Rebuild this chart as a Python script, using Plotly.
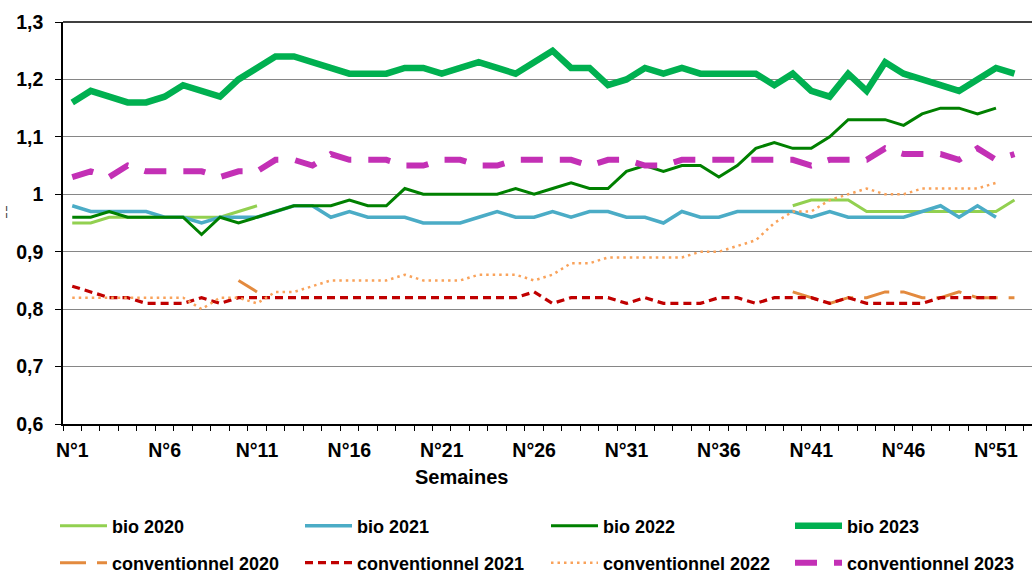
import plotly.graph_objects as go

weeks = list(range(1, 53))
tick_weeks = [1, 6, 11, 16, 21, 26, 31, 36, 41, 46, 51]
tick_labels = ["N°%d" % w for w in tick_weeks]
y_ticks = [0.6, 0.7, 0.8, 0.9, 1.0, 1.1, 1.2, 1.3]
y_tick_labels = ["0,6", "0,7", "0,8", "0,9", "1", "1,1", "1,2", "1,3"]

N = None
bio_2020 = [0.95, 0.95, 0.96, 0.96, 0.96, 0.96, 0.96, 0.96, 0.96, 0.97, 0.98] + [N] * 28 + \
           [0.98, 0.99, 0.99, 0.99, 0.97, 0.97, 0.97, 0.97, 0.97, 0.97, 0.97, 0.97, 0.99]
bio_2021 = [0.98, 0.97, 0.97, 0.97, 0.97, 0.96, 0.96, 0.95, 0.96, 0.96,
            0.96, 0.97, 0.98, 0.98, 0.96, 0.97, 0.96, 0.96, 0.96, 0.95,
            0.95, 0.95, 0.96, 0.97, 0.96, 0.96, 0.97, 0.96, 0.97, 0.97,
            0.96, 0.96, 0.95, 0.97, 0.96, 0.96, 0.97, 0.97, 0.97, 0.97,
            0.96, 0.97, 0.96, 0.96, 0.96, 0.96, 0.97, 0.98, 0.96, 0.98,
            0.96, N]
bio_2022 = [0.96, 0.96, 0.97, 0.96, 0.96, 0.96, 0.96, 0.93, 0.96, 0.95,
            0.96, 0.97, 0.98, 0.98, 0.98, 0.99, 0.98, 0.98, 1.01, 1.00,
            1.00, 1.00, 1.00, 1.00, 1.01, 1.00, 1.01, 1.02, 1.01, 1.01,
            1.04, 1.05, 1.04, 1.05, 1.05, 1.03, 1.05, 1.08, 1.09, 1.08,
            1.08, 1.10, 1.13, 1.13, 1.13, 1.12, 1.14, 1.15, 1.15, 1.14,
            1.15, N]
bio_2023 = [1.16, 1.18, 1.17, 1.16, 1.16, 1.17, 1.19, 1.18, 1.17, 1.20,
            1.22, 1.24, 1.24, 1.23, 1.22, 1.21, 1.21, 1.21, 1.22, 1.22,
            1.21, 1.22, 1.23, 1.22, 1.21, 1.23, 1.25, 1.22, 1.22, 1.19,
            1.20, 1.22, 1.21, 1.22, 1.21, 1.21, 1.21, 1.21, 1.19, 1.21,
            1.18, 1.17, 1.21, 1.18, 1.23, 1.21, 1.20, 1.19, 1.18, 1.20,
            1.22, 1.21]
conv_2020 = [N] * 9 + [0.85, 0.83] + [N] * 28 + \
            [0.83, 0.82, 0.81, 0.82, 0.82, 0.83, 0.83, 0.82, 0.82, 0.83, 0.82, 0.82, 0.82]
conv_2021 = [0.84, 0.83, 0.82, 0.82, 0.81, 0.81, 0.81, 0.82, 0.81, 0.82,
             0.82, 0.82, 0.82, 0.82, 0.82, 0.82, 0.82, 0.82, 0.82, 0.82,
             0.82, 0.82, 0.82, 0.82, 0.82, 0.83, 0.81, 0.82, 0.82, 0.82,
             0.81, 0.82, 0.81, 0.81, 0.81, 0.82, 0.82, 0.81, 0.82, 0.82,
             0.82, 0.81, 0.82, 0.81, 0.81, 0.81, 0.81, 0.82, 0.82, 0.82,
             0.82, N]
conv_2022 = [0.82, 0.82, 0.82, 0.82, 0.82, 0.82, 0.82, 0.80, 0.82, 0.82,
             0.81, 0.83, 0.83, 0.84, 0.85, 0.85, 0.85, 0.85, 0.86, 0.85,
             0.85, 0.85, 0.86, 0.86, 0.86, 0.85, 0.86, 0.88, 0.88, 0.89,
             0.89, 0.89, 0.89, 0.89, 0.90, 0.90, 0.91, 0.92, 0.95, 0.97,
             0.97, 0.99, 1.00, 1.01, 1.00, 1.00, 1.01, 1.01, 1.01, 1.01,
             1.02, N]
conv_2023 = [1.03, 1.04, 1.03, 1.05, 1.04, 1.04, 1.04, 1.04, 1.03, 1.04,
             1.04, 1.06, 1.06, 1.05, 1.07, 1.06, 1.06, 1.06, 1.05, 1.05,
             1.06, 1.06, 1.05, 1.05, 1.06, 1.06, 1.06, 1.06, 1.05, 1.06,
             1.06, 1.05, 1.05, 1.06, 1.06, 1.06, 1.06, 1.06, 1.06, 1.06,
             1.05, 1.06, 1.06, 1.06, 1.08, 1.07, 1.07, 1.07, 1.06, 1.08,
             1.06, 1.07]

FONT = "Liberation Sans, Arial, sans-serif"

series = [
    ("bio 2020", bio_2020, "#92D050", 3, "solid"),
    ("bio 2021", bio_2021, "#4BACC6", 3.5, "solid"),
    ("bio 2022", bio_2022, "#008000", 3, "solid"),
    ("bio 2023", bio_2023, "#00B050", 6.5, "solid"),
    ("conventionnel 2020", conv_2020, "#E38A3E", 3, "26px,11px"),
    ("conventionnel 2021", conv_2021, "#C00000", 3.2, "8px,5px"),
    ("conventionnel 2022", conv_2022, "#F9A25A", 2.5, "2.5px,4px"),
    ("conventionnel 2023", conv_2023, "#C330B5", 6, "22px,17px"),
]

# legend slot positions (plot area: left 63 px, width 969 px, bottom 424 px, height 402 px)
PLOT_L, PLOT_W, PLOT_B, PLOT_H = 63, 969, 424, 402
col_px = [55, 300, 546, 790]
row_px = [526, 563]

fig = go.Figure()
layout_legends = {}
for i, (name, vals, color, width, dash) in enumerate(series):
    lid = "legend" if i == 0 else "legend%d" % (i + 1)
    fig.add_trace(go.Scatter(
        x=weeks, y=vals, name=name, mode="lines",
        line=dict(color=color, width=width, dash=dash),
        connectgaps=False, legend=lid,
    ))
    col, row = i % 4, i // 4
    layout_legends[lid] = dict(
        x=(col_px[col] - PLOT_L) / PLOT_W,
        y=(PLOT_B - row_px[row]) / PLOT_H,
        xanchor="left", yanchor="middle", orientation="h", itemwidth=47,
        font=dict(family=FONT, size=18, color="black", weight="bold"),
        bgcolor="rgba(0,0,0,0)", borderwidth=0,
    )

fig.update_layout(
    width=1032, height=573,
    margin=dict(l=PLOT_L, r=0, t=22, b=573 - PLOT_B, autoexpand=False),
    paper_bgcolor="white", plot_bgcolor="white",
    font=dict(family=FONT, color="black"),
    showlegend=True,
    xaxis=dict(
        range=[0.5, 52.95], tickmode="array", tickvals=tick_weeks, ticktext=tick_labels,
        showline=True, linecolor="black", linewidth=1.5, ticks="", showgrid=False,
        zeroline=False, ticklabelstandoff=8,
        tickfont=dict(family=FONT, size=19.5, color="black", weight="bold"),
        minor=dict(ticks="outside", tick0=0.5, dtick=1, ticklen=5,
                   tickcolor="black", tickwidth=1, showgrid=False),
    ),
    yaxis=dict(
        range=[0.6, 1.3], tickmode="array", tickvals=y_ticks, ticktext=y_tick_labels,
        showline=True, linecolor="black", linewidth=1.5,
        ticks="outside", ticklen=6, tickcolor="black", tickwidth=1,
        showgrid=True, gridcolor="#868686", gridwidth=1, zeroline=False,
        ticklabelstandoff=8,
        tickfont=dict(family=FONT, size=19.5, color="black", weight="bold"),
    ),
    shapes=[dict(type="line", xref="paper", yref="paper", x0=0, x1=1, y0=1, y1=1,
                 line=dict(color="black", width=1.5))],
    annotations=[
        dict(text="Semaines", xref="paper", yref="paper", x=(461 - PLOT_L) / PLOT_W,
             y=(PLOT_B - 477) / PLOT_H,
             xanchor="center", yanchor="middle", showarrow=False,
             font=dict(family=FONT, size=20, color="black", weight="bold")),
        dict(text="¦", xref="paper", yref="paper", x=(6 - PLOT_L) / PLOT_W,
             y=(PLOT_B - 211) / PLOT_H,
             xanchor="center", yanchor="middle", showarrow=False,
             font=dict(family=FONT, size=12, color="#333333")),
    ],
    **layout_legends,
)

fig.write_html("out.html")
